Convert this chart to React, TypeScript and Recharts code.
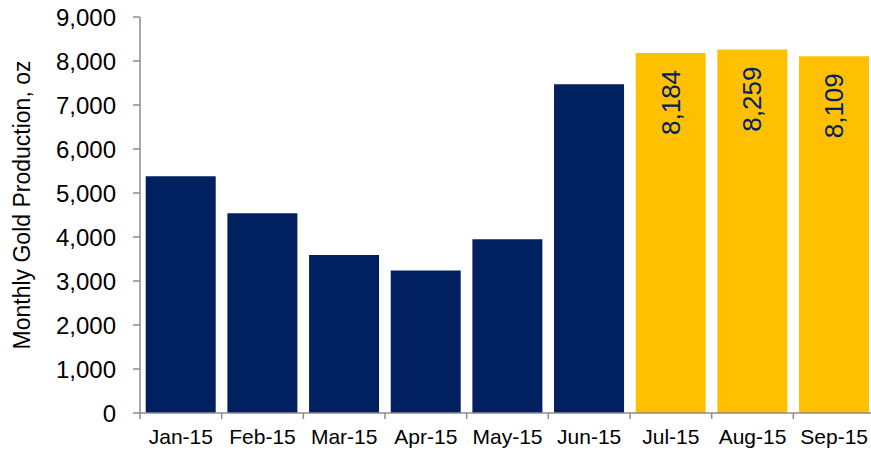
import { BarChart, Bar, XAxis, YAxis, Cell, LabelList, Label } from 'recharts'

const months = ['Jan-15', 'Feb-15', 'Mar-15', 'Apr-15', 'May-15', 'Jun-15', 'Jul-15', 'Aug-15', 'Sep-15']
const production = [5380, 4540, 3590, 3240, 3950, 7470, 8184, 8259, 8109]
// later months shown in gold with their value written inside the bar
const highlighted = [false, false, false, false, false, false, true, true, true]
const yTicks = [0, 1000, 2000, 3000, 4000, 5000, 6000, 7000, 8000, 9000]

const data = months.map((month, i) => ({
  month,
  oz: production[i],
  highlight: highlighted[i],
}))

const NAVY = '#002060'
const GOLD = '#FFC000'
const AXIS = '#8C8C8C'
const FONT = 'Liberation Sans, Arial, sans-serif'

const W = 871
const H = 452
const MARGIN = { top: 17, right: -4, bottom: 0, left: 0 }
const Y_WIDTH = 140

// category ticks: label at the band centre, tick mark at the band edges
function MonthTick(props: any) {
  const { x, y, payload, index } = props
  const half = payload?.offset ?? (W - MARGIN.left - MARGIN.right - Y_WIDTH) / months.length / 2
  const last = index === months.length - 1
  return (
    <g>
      <line x1={x - half} x2={x - half} y1={y} y2={y + 6} stroke={AXIS} strokeWidth={1.5} />
      {last && <line x1={x + half} x2={x + half} y1={y} y2={y + 6} stroke={AXIS} strokeWidth={1.5} />}
      <text x={x} y={y + 31} textAnchor="middle" fill="#000" fontSize={21} fontFamily={FONT}>
        {payload.value}
      </text>
    </g>
  )
}

function ValueLabel(props: any) {
  const { x, y, width, value, index } = props
  if (!highlighted[index]) return null
  const cx = x + width / 2
  const cy = y + 17
  return (
    <text
      x={cx}
      y={cy}
      transform={`rotate(-90, ${cx}, ${cy})`}
      textAnchor="end"
      dominantBaseline="central"
      fill={NAVY}
      fontSize={26}
      fontFamily={FONT}
    >
      {Number(value).toLocaleString('en-US')}
    </text>
  )
}

export default function App() {
  return (
    <div style={{ position: 'absolute', left: 0, top: 0, background: '#fff' }}>
      <BarChart width={W} height={H} data={data} margin={MARGIN} barCategoryGap="7%">
        <XAxis
          dataKey="month"
          axisLine={{ stroke: AXIS, strokeWidth: 1.5 }}
          tickLine={false}
          tickSize={0}
          tickMargin={0}
          height={39}
          interval={0}
          tick={<MonthTick />}
        />
        <YAxis
          width={Y_WIDTH}
          domain={[0, 9000]}
          ticks={yTicks}
          interval={0}
          axisLine={{ stroke: AXIS, strokeWidth: 1.5 }}
          tickLine={{ stroke: AXIS, strokeWidth: 1.5 }}
          tickSize={7}
          tickMargin={17}
          tick={{ fill: '#000', fontSize: 24, fontFamily: FONT }}
          tickFormatter={(v: number) => v.toLocaleString('en-US')}
        >
          <Label
            content={({ viewBox }: any) => {
              const cx = 22
              const cy = viewBox.y + viewBox.height / 2 - 10
              return (
                <text
                  x={cx}
                  y={cy}
                  transform={`rotate(-90, ${cx}, ${cy})`}
                  textAnchor="middle"
                  dominantBaseline="central"
                  fill="#000"
                  fontSize={23}
                  fontFamily={FONT}
                >
                  Monthly Gold Production, oz
                </text>
              )
            }}
          />
        </YAxis>
        <Bar dataKey="oz" isAnimationActive={false}>
          {data.map((d) => (
            <Cell key={d.month} fill={d.highlight ? GOLD : NAVY} />
          ))}
          <LabelList dataKey="oz" content={<ValueLabel />} />
        </Bar>
      </BarChart>
    </div>
  )
}
